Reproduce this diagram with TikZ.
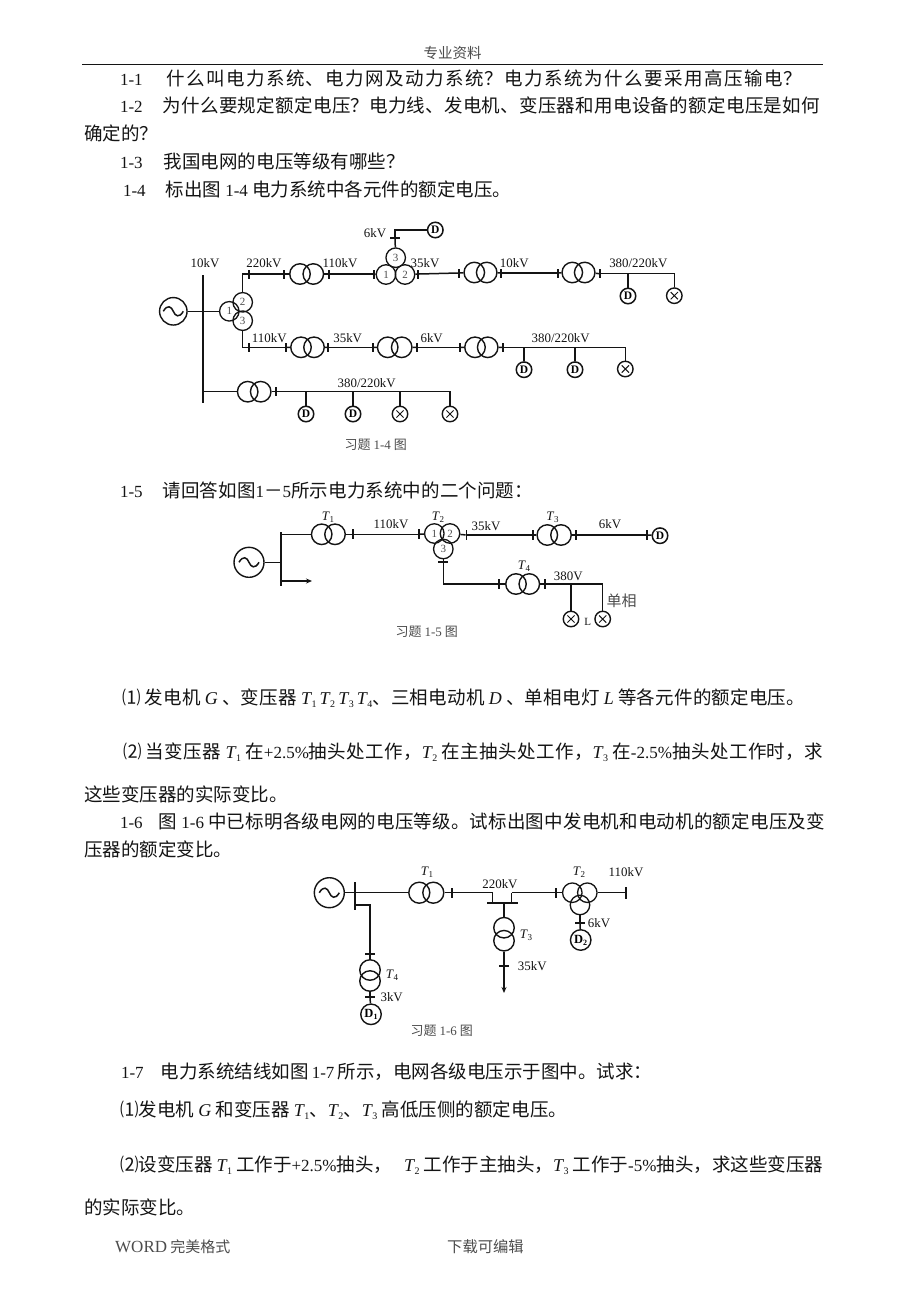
\documentclass[tikz,border=0pt]{standalone}
\usepackage{fontspec}
\setmainfont{Liberation Serif}
\newfontfamily\cjk{Noto Sans CJK SC}
\usetikzlibrary{arrows.meta}
\XeTeXlinebreaklocale "zh"
\XeTeXlinebreakskip=0pt plus 6pt
\definecolor{ink}{gray}{0.08}
\definecolor{soft}{gray}{0.3}
\tikzset{
  wire/.style={draw=ink,line width=1.5pt},
  coil/.style={circle,draw=ink,line width=1.4pt,inner sep=0pt,minimum size=20.5pt},
  wcoil/.style={circle,draw=ink,line width=1.3pt,inner sep=0pt,minimum size=19.5pt,font=\fontsize{11}{11}\selectfont\rmfamily,text=soft},
  gens/.style={circle,draw=ink,line width=1.4pt,inner sep=0pt,minimum size=30pt},
  motor/.style={circle,draw=ink,line width=1.5pt,inner sep=0pt,minimum size=15.5pt,font=\fontsize{11.5}{11}\selectfont\rmfamily\bfseries},
  bigmotor/.style={motor,minimum size=20.5pt,line width=1.4pt,font=\fontsize{12.5}{12}\selectfont\rmfamily\bfseries},
  lamp/.style={circle,draw=ink,line width=1.4pt,inner sep=0pt,minimum size=15.5pt},
  tickbar/.style={fill=ink,inner sep=0pt,outer sep=0pt},
  lab/.style={inner sep=0pt,text=ink,font=\fontsize{12.9}{13}\selectfont\rmfamily},
  figcap/.style={inner sep=0pt,text=soft,font=\fontsize{13}{13}\selectfont\cjk},
  para/.style={anchor=base west,inner sep=0pt,outer sep=0pt,align=justify,text=ink,font=\fontsize{18.5}{20}\selectfont\cjk},
  freeline/.style={anchor=base west,inner sep=0pt,outer sep=0pt,text=ink,font=\fontsize{18.5}{20}\selectfont\cjk}
}
\newcommand\lt[1]{{\rmfamily\fontsize{17}{20}\selectfont #1}}
\newcommand\Tt[1]{{\rmfamily\itshape\fontsize{18}{20}\selectfont T\kern.5pt\raisebox{-3pt}{\upshape\fontsize{10}{10}\selectfont #1}}}
\newcommand\Vr[1]{{\rmfamily\itshape\fontsize{18}{20}\selectfont #1}}
\newcommand\Lt[1]{{\rmfamily\itshape T\kern.3pt\raisebox{-2pt}{\upshape\fontsize{9}{9}\selectfont #1}}}
% name, x, y centre, width, text
\newcommand\wl[5]{\node[para,text width=#4pt] (#1) at (#2,#3+6.5) {\parfillskip=0pt\relax #5\par};}
\newcommand\tickv[4]{\node[tickbar,minimum width=1.7pt,minimum height=#4pt] (#1) at (#2,#3) {};}
\newcommand\tickh[4]{\node[tickbar,minimum height=1.7pt,minimum width=#4pt] (#1) at (#2,#3) {};}
\newcommand\genr[4]{\node[gens,minimum size=#4pt] (#1) at (#2,#3) {};
  \draw[wire,shift={(#2,#3)}] (-10,0) .. controls (-6,-7) and (-2,-5) .. (0,0) .. controls (2,5) and (6,7) .. (10,0);}
\newcommand\motr[3]{\node[motor] (#1) at (#2,#3) {D};}
\newcommand\lmp[3]{\node[lamp] (#1) at (#2,#3) {};
  \draw[draw=ink,line width=1pt,shift={(#2,#3)}] (-3.6,-3.6) -- (3.6,3.6) (-3.6,3.6) -- (3.6,-3.6);}
\begin{document}
\begin{tikzpicture}[x=1pt,y=-1pt]
\useasboundingbox (0,0) rectangle (920,1300);
\fill[white] (0,0) rectangle (920,1300);

% ---------- page header and text
\node[figcap,font=\fontsize{14.5}{15}\selectfont\cjk] (hdr) at (452.5,53) {专业资料};
\coordinate (ruleL) at (82,64.5); \coordinate (ruleR) at (823,64.5);
\draw[draw=ink,line width=1pt] (ruleL) -- (ruleR);

\wl{q1}{120}{79}{682}{\lt{1-1}\hspace{24pt}什么叫电力系统、电力网及动力系统？电力系统为什么要采用高压输电？}
\wl{q2}{120}{106}{700}{\lt{1-2}\hspace{20pt}为什么要规定额定电压？电力线、发电机、变压器和用电设备的额定电压是如何}
\node[freeline] (q2b) at (84,134+6.5) {确定的？};
\wl{q3}{120}{162}{285}{\lt{1-3}\hspace{21pt}我国电网的电压等级有哪些？}
\wl{q4}{123}{190}{388}{\lt{1-4}\hspace{20pt}标出图 \lt{1-4} 电力系统中各元件的额定电压。}
\wl{q5}{120}{491}{413}{\lt{1-5}\hspace{20pt}请回答如图\lt{1}－\lt{5}所示电力系统中的二个问题：}
\wl{q51}{122}{698}{683}{⑴ 发电机 \Vr{G} 、变压器 \Tt{1}\,\Tt{2}\,\Tt{3}\,\Tt{4}、三相电动机 \Vr{D} 、单相电灯 \Vr{L} 等各元件的额定电压。}
\wl{q52}{123}{752}{700}{⑵ 当变压器 \Tt{1} 在\lt{+2.5\%}抽头处工作，\Tt{2} 在主抽头处工作，\Tt{3} 在\lt{-2.5\%}抽头处工作时，求}
\node[freeline] (q52b) at (84,795+6.5) {这些变压器的实际变比。};
\wl{q6}{120}{822}{705}{\lt{1-6}\hspace{16pt}图 \lt{1-6} 中已标明各级电网的电压等级。试标出图中发电机和电动机的额定电压及变}
\node[freeline] (q6b) at (84,850+6.5) {压器的额定变比。};
\wl{q7}{121}{1072}{531}{\lt{1-7}\hspace{17pt}电力系统结线如图 \lt{1-7} 所示，电网各级电压示于图中。试求：}
\wl{q71}{120}{1110}{447}{⑴发电机 \Vr{G} 和变压器 \Tt{1}、\Tt{2}、\Tt{3} 高低压侧的额定电压。}
\wl{q72}{120}{1165}{703}{⑵设变压器 \Tt{1} 工作于\lt{+2.5\%}抽头，\hspace{12pt}\Tt{2} 工作于主抽头，\Tt{3} 工作于\lt{-5\%}抽头，求这些变压器}
\node[freeline] (q72b) at (84,1208+6.5) {的实际变比。};
\node[figcap,anchor=west,font=\fontsize{15}{16}\selectfont\cjk] (ftl) at (115,1247) {{\rmfamily\fontsize{17}{16}\selectfont WORD} 完美格式};
\node[figcap,anchor=west,font=\fontsize{15.3}{16}\selectfont\cjk] (ftr) at (447,1247) {下载可编辑};

% ---------- figure 1-4
\genr{G}{173.3}{311.3}{27.5}
\node[tickbar,minimum width=2pt,minimum height=128pt,anchor=north] (bus) at (202.7,275) {};
\node[wcoil] (a1) at (229.3,311.3) {1};
\node[wcoil] (a2) at (242.7,302.3) {2};
\node[wcoil] (a3) at (242.7,320.7) {3};
\draw[wire] (G) -- (a1);
\tickv{u1}{249}{274}{9} \tickv{u2}{284.3}{274}{9}
\node[coil] (t1a) at (300,274) {}; \node[coil] (t1b) at (313.3,274) {};
\tickv{u3}{329}{274}{9} \tickv{u4}{374.3}{274}{9}
\node[wcoil] (b1) at (386,274.5) {1}; \node[wcoil] (b2) at (405,274.5) {2}; \node[wcoil] (b3) at (395.7,257.7) {3};
\tickv{u5}{418.3}{274}{9} \tickv{u6}{459.3}{273}{9}
\node[coil] (t2a) at (474.3,272.5) {}; \node[coil] (t2b) at (486.7,272.5) {};
\tickv{u7}{501}{273}{9} \tickv{u8}{558.3}{273}{9}
\node[coil] (t3a) at (572.3,272.5) {}; \node[coil] (t3b) at (584.7,272.5) {};
\tickv{u9}{600.3}{273.7}{9}
\draw[wire] (a2) |- (u1);
\draw[wire] (u1) -- (u2); \draw[wire] (u2) -- (t1a); \draw[wire] (t1b) -- (u3); \draw[wire] (u3) -- (u4); \draw[wire] (u4) -- (b1);
\draw[wire] (b2) -- (u5); \draw[wire] (u5.east) -- (u6.west); \draw[wire] (u6) -- (t2a); \draw[wire] (t2b) -- (u7); \draw[wire] (u7) -- (u8); \draw[wire] (u8) -- (t3a); \draw[wire] (t3b) -- (u9);
\motr{d1}{628}{296} \lmp{l1}{674.3}{295.7}
\coordinate (j1) at (628,273.7);
\draw[wire] (u9) -| (l1); \draw[wire] (j1) -- (d1);
\tickh{u10}{395}{238.3}{10}
\motr{d2}{435.3}{230}
\draw[wire] (b3) -- (u10); \draw[wire] (u10) |- (d2);

\tickv{v1}{249}{347.5}{9} \tickv{v2}{285.7}{347.5}{9}
\node[coil] (s1a) at (301,347.3) {}; \node[coil] (s1b) at (314,347.3) {};
\tickv{v3}{328}{347.5}{9} \tickv{v4}{373.3}{347.5}{9}
\node[coil] (s2a) at (387.7,347.3) {}; \node[coil] (s2b) at (401.7,347.3) {};
\tickv{v5}{416.7}{347.5}{9} \tickv{v6}{460}{347.5}{9}
\node[coil] (s3a) at (475,347.3) {}; \node[coil] (s3b) at (487.7,347.3) {};
\tickv{v7}{503.3}{347.5}{9}
\draw[wire] (a3) |- (v1);
\draw[wire] (v1) -- (v2); \draw[wire] (v2) -- (s1a); \draw[wire] (s1b) -- (v3); \draw[wire] (v3) -- (v4); \draw[wire] (v4) -- (s2a); \draw[wire] (s2b) -- (v5); \draw[wire] (v5) -- (v6); \draw[wire] (v6) -- (s3a); \draw[wire] (s3b) -- (v7);
\motr{d3}{524}{369.7} \motr{d4}{575}{369.7} \lmp{l2}{625.3}{369}
\coordinate (j3) at (524,347.5); \coordinate (j4) at (575,347.5);
\draw[wire] (v7) -| (l2); \draw[wire] (j3) -- (d3); \draw[wire] (j4) -- (d4);

\coordinate (busj) at (202.7,391.7);
\node[coil] (r1a) at (247.7,391.7) {}; \node[coil] (r1b) at (260.7,391.7) {};
\tickv{w1}{275.7}{391.7}{9}
\motr{d5}{306}{414} \motr{d6}{353}{414} \lmp{l3}{400}{414} \lmp{l4}{450}{414}
\coordinate (j5) at (306,391.7); \coordinate (j6) at (353,391.7); \coordinate (j7) at (400,391.7);
\draw[wire] (busj) -- (r1a); \draw[wire] (r1b) -- (w1); \draw[wire] (w1) -| (l4);
\draw[wire] (j5) -- (d5); \draw[wire] (j6) -- (d6); \draw[wire] (j7) -- (l3);

\node[lab] (n1) at (205,262.7) {10kV};
\node[lab] (n2) at (264,262.7) {220kV};
\node[lab] (n3) at (340,262.7) {110kV};
\node[lab] (n4) at (375,232.7) {6kV};
\node[lab] (n5) at (425,262.7) {35kV};
\node[lab] (n6) at (514.3,262.7) {10kV};
\node[lab] (n7) at (638.3,262.7) {380/220kV};
\node[lab] (n8) at (269.3,338.3) {110kV};
\node[lab] (n9) at (347.7,338.3) {35kV};
\node[lab] (n10) at (431.7,338.3) {6kV};
\node[lab] (n11) at (560.7,338.3) {380/220kV};
\node[lab] (n12) at (366.7,382.7) {380/220kV};
\node[figcap] (c4) at (375.7,445) {习题 {\rmfamily 1-4} 图};

% ---------- figure 1-5
\genr{H}{249}{562.3}{30}
\node[tickbar,minimum width=2pt,minimum height=54.5pt,anchor=north] (busb) at (281,531.7) {};
\coordinate (hj) at (281,562.3); \coordinate (hk) at (281,534.3); \coordinate (harr) at (281,581); \coordinate (harre) at (312,581);
\draw[wire] (H) -- (hj);
\draw[wire,-{Stealth[length=6pt,width=5pt]}] (harr) -- (harre);
\node[coil] (ta) at (321.7,534.3) {}; \node[coil] (tb) at (335,534.3) {};
\tickv{x1}{352.7}{534.3}{10} \tickv{x2}{419}{534.3}{10}
\node[wcoil] (c1) at (434.3,533.5) {1}; \node[wcoil] (c2) at (450,533.5) {2}; \node[wcoil] (c3) at (443.3,549) {3};
\tickv{x3}{466.5}{535}{10} \tickv{x4}{532.7}{535}{10}
\node[coil] (tc) at (547.3,535) {}; \node[coil] (td) at (561,535) {};
\tickv{x5}{575.7}{535}{10} \tickv{x6}{647.3}{535}{10}
\motr{d7}{660}{535.7}
\draw[wire] (hk) -- (ta); \draw[wire] (tb) -- (x1); \draw[wire] (x1) -- (x2); \draw[wire] (x2) -- (c1); \draw[wire] (c2) -- (x3); \draw[wire] (x3) -- (x4); \draw[wire] (x4) -- (tc); \draw[wire] (td) -- (x5); \draw[wire] (x5) -- (x6); \draw[wire] (x6) -- (d7);
\tickh{x7}{443.3}{561.7}{10}
\tickv{x8}{499.3}{584}{10}
\node[coil] (te) at (516,584) {}; \node[coil] (tf) at (529.3,584) {};
\tickv{x9}{545.3}{584}{10}
\lmp{l5}{571}{619} \lmp{l6}{602.7}{619}
\coordinate (j8) at (571,584);
\draw[wire] (c3) -- (x7); \draw[wire] (x7) |- (x8); \draw[wire] (x8) -- (te); \draw[wire] (tf) -- (x9); \draw[wire] (x9) -| (l6); \draw[wire] (j8) -- (l5);
\node[lab,font=\fontsize{13}{14}\selectfont\rmfamily\itshape] (m1) at (328,517) {\Lt{1}};
\node[lab,font=\fontsize{13}{14}\selectfont\rmfamily\itshape] (m2) at (438,517) {\Lt{2}};
\node[lab,font=\fontsize{13}{14}\selectfont\rmfamily\itshape] (m3) at (552.5,517.5) {\Lt{3}};
\node[lab,font=\fontsize{13}{14}\selectfont\rmfamily\itshape] (m4) at (524,566.7) {\Lt{4}};
\node[lab] (m5) at (391,524.3) {110kV};
\node[lab] (m6) at (486,526) {35kV};
\node[lab] (m7) at (610,524.3) {6kV};
\node[lab] (m8) at (568.3,576) {380V};
\node[lab,text=soft,font=\fontsize{15}{16}\selectfont\cjk] (m9) at (621.7,600.7) {单相};
\node[lab,font=\fontsize{11}{12}\selectfont\rmfamily] (m10) at (587.7,621.7) {L};
\node[figcap] (c5) at (426.7,631.7) {习题 {\rmfamily 1-5} 图};

% ---------- figure 1-6
\genr{K}{329.3}{892.7}{30}
\node[tickbar,minimum width=2pt,minimum height=28.5pt,anchor=north] (busc) at (355,881.7) {};
\node[coil,minimum size=21pt] (pa) at (419.3,892.7) {}; \node[coil,minimum size=21pt] (pb) at (433.3,892.7) {};
\tickv{y1}{452.3}{892.7}{10}
\coordinate (y2) at (492.7,892.7); \coordinate (y3) at (492.7,902.7);
\tickh{ybar}{502.2}{902.7}{31}
\coordinate (y4) at (511.7,902.7); \coordinate (y5) at (511.7,892.7);
\tickv{y6}{556}{892.7}{10}
\node[wcoil] (e1) at (572.3,892.7) {}; \node[wcoil] (e2) at (587.3,892.7) {}; \node[wcoil] (e3) at (580,905) {};
\tickv{y7}{626}{892.7}{12}
\tickh{y8}{580}{922.7}{10}
\node[bigmotor] (d9) at (580.7,940) {D\raisebox{-2pt}{\fontsize{8}{8}\selectfont 2}};
\coordinate (kj) at (355,892.7);
\draw[wire] (K) -- (kj); \draw[wire] (kj) -- (pa); \draw[wire] (pb) -- (y1); \draw[wire] (y1) -- (y2); \draw[wire] (y2) -- (y3);
\draw[wire] (y4) -- (y5); \draw[wire] (y5) -- (y6); \draw[wire] (y6) -- (e1); \draw[wire] (e2) -- (y7);
\draw[wire] (e3) -- (y8); \draw[wire] (y8) -- (d9);
% T3
\coordinate (z0) at (504,902.7);
\node[coil] (qa) at (504,927.7) {}; \node[coil] (qb) at (504,940.7) {};
\tickh{z1}{504}{965.7}{10}
\coordinate (z2) at (504,993);
\draw[wire] (z0) -- (qa); \draw[wire] (qb) -- (z1); \draw[wire,-{Stealth[length=6pt,width=5pt]}] (z1) -- (z2);
% T4
\coordinate (f0) at (355,905);
\tickh{f1}{370}{954}{10}
\node[coil] (ra) at (370,970) {}; \node[coil] (rb) at (370,981) {};
\tickh{f2}{370}{996.7}{10}
\node[bigmotor] (d8) at (371,1014.3) {D\raisebox{-2pt}{\fontsize{8}{8}\selectfont 1}};
\draw[wire] (f0) -| (f1); \draw[wire] (f1) -- (ra); \draw[wire] (rb) -- (f2); \draw[wire] (f2) -- (d8);
\node[lab,font=\fontsize{13}{14}\selectfont\rmfamily\itshape] (o1) at (427,872) {\Lt{1}};
\node[lab,font=\fontsize{13}{14}\selectfont\rmfamily\itshape] (o2) at (579,872) {\Lt{2}};
\node[lab,font=\fontsize{13}{14}\selectfont\rmfamily\itshape] (o3) at (526,935) {\Lt{3}};
\node[lab,font=\fontsize{13}{14}\selectfont\rmfamily\itshape] (o4) at (392,975) {\Lt{4}};
\node[lab] (o5) at (500,884) {220kV};
\node[lab] (o6) at (626,871.7) {110kV};
\node[lab] (o7) at (599,922.7) {6kV};
\node[lab] (o8) at (532.3,966) {35kV};
\node[lab] (o9) at (391.7,996.7) {3kV};
\node[figcap] (c6) at (441.7,1031) {习题 {\rmfamily 1-6} 图};
\end{tikzpicture}
\end{document}
